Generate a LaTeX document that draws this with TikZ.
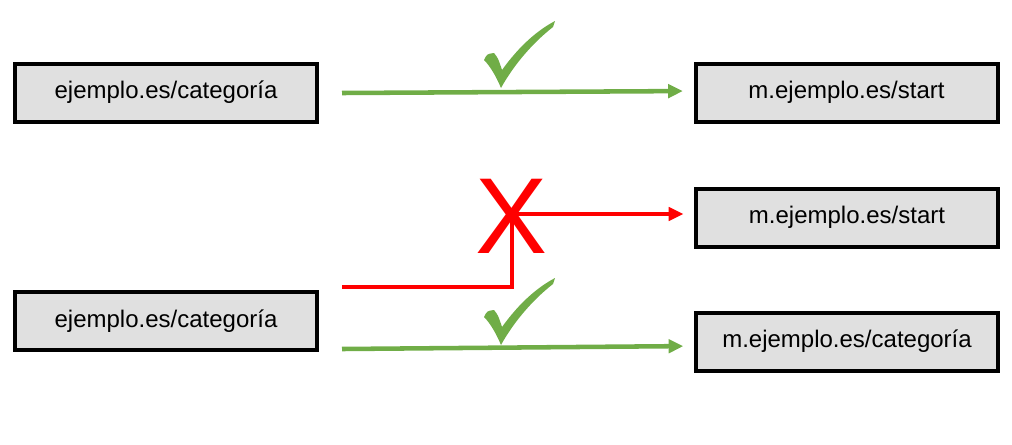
\documentclass[tikz,border=0pt]{standalone}
\usepackage{fontspec}
\setmainfont{Liberation Sans}
\usetikzlibrary{arrows.meta,positioning}
\definecolor{okgreen}{RGB}{112,173,71}
\definecolor{boxgray}{RGB}{224,224,224}

\begin{document}
\begin{tikzpicture}[x=0.75pt,y=-0.75pt,
  urlbox/.style={draw=black, line width=3pt, fill=boxgray, minimum width=226.5pt,
    minimum height=43.5pt, inner sep=0pt, font=\fontsize{18}{20}\selectfont},
  goodarrow/.style={okgreen, line width=3.4pt, -{Triangle[length=11pt,width=10pt]}, shorten >=8pt},
  badarrow/.style={red, line width=2.5pt, -{Triangle[length=11pt,width=10pt]}, shorten >=8pt},
  checkmark/.style={fill=okgreen, draw=none}]
\useasboundingbox (0,0) rectangle (1012,444);
\node [urlbox] (src1) at (166,92.5) {ejemplo.es/categoría};
\node [urlbox] (dst1) at (846.5,92.5) {m.ejemplo.es/start};
\node [urlbox] (dst2) at (847,217.5) {m.ejemplo.es/start};
\node [urlbox] (src2) at (166,321) {ejemplo.es/categoría};
\node [urlbox] (dst3) at (847,341.5) {m.ejemplo.es/categoría};
\coordinate (a1) at (342,93);
\coordinate (a2) at (342,287);
\coordinate (bend) at (512,287);
\coordinate (a3) at (342,349);
\draw [goodarrow] (a1) -- (dst1.west |- 0,91);
\draw [badarrow] (a2) -- (bend) -- (512,214) -- (dst2.west |- 0,214);
\draw [goodarrow] (a3) -- (dst3.west |- 0,346);
\node [red, font=\fontsize{81}{81}\selectfont, inner sep=0pt] (cross) at (512,216) {X};
\foreach \dy in {0,257} {
  \fill [checkmark, yshift=-0.75*\dy pt] (484,60) .. controls (487,54) .. (494,53)
    .. controls (498,58) .. (502,70) .. controls (520,45) and (538,30) .. (555,21)
    -- (553,27) .. controls (530,45) and (512,68) .. (501,88)
    .. controls (496,76) and (490,66) .. (484,60) -- cycle;
}
\end{tikzpicture}
\end{document}
